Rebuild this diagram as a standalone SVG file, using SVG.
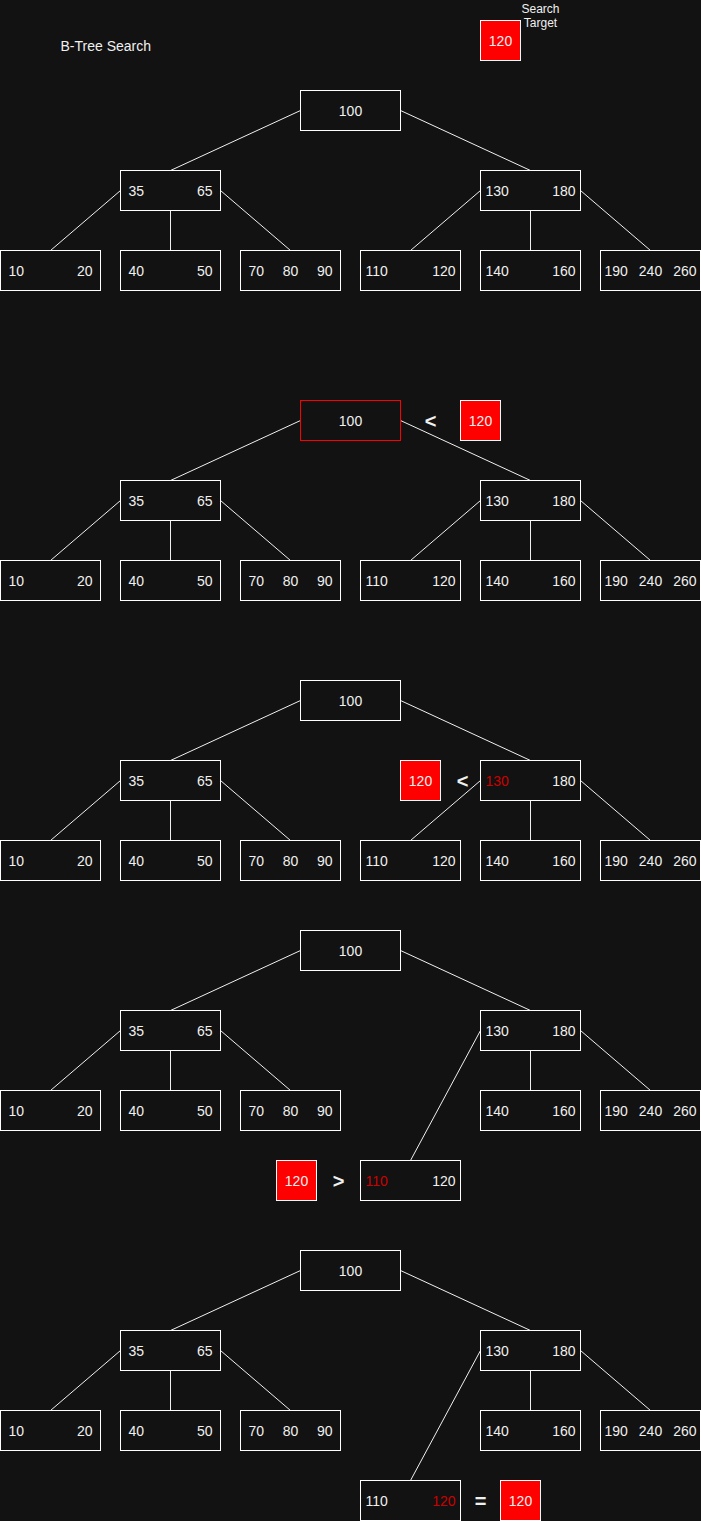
<svg xmlns="http://www.w3.org/2000/svg" width="701" height="1521" viewBox="0 0 701 1521">
<style>
.bg{fill:#121212}
.box{fill:#121212;stroke:#ffffff;stroke-width:1}
.hl{fill:#121212;stroke:#ff0000;stroke-width:1}
.tgt{fill:#ff0000;stroke:#ffffff;stroke-width:1}
.e{stroke:#f0f0f0;stroke-width:1;fill:none}
text{font-family:"Liberation Sans",Arial,Helvetica,sans-serif;font-size:14px;fill:#f0f0f0}
.m{text-anchor:middle}
.r{text-anchor:end}
.red{fill:#cc0000}
.op{font-size:20px;font-weight:bold;text-anchor:middle}
.sm{font-size:12px;text-anchor:middle}
</style>
<rect class="bg" x="0" y="0" width="701" height="1521"/>
<g transform="translate(0.5,0.5)">
<text x="60" y="50">B-Tree Search</text>
<g id="search-target">
<rect class="tgt" x="480" y="20" width="40" height="40"/>
<text class="m" x="500" y="45">120</text>
<text class="sm" x="540" y="12">Search</text>
<text class="sm" x="540" y="26">Target</text>
</g>

<g id="connectors">
<g transform="translate(0,0)">
<path class="e" d="M300 110L170 170M400 110L530 170M120 190L50 250M170 210L170 250M220 190L290 250M480 190L410 250M530 210L530 250M580 190L650 250"/>
</g>
<g transform="translate(0,310)">
<path class="e" d="M300 110L170 170M400 110L530 170M120 190L50 250M170 210L170 250M220 190L290 250M480 190L410 250M530 210L530 250M580 190L650 250"/>
</g>
<g transform="translate(0,590)">
<path class="e" d="M300 110L170 170M400 110L530 170M120 190L50 250M170 210L170 250M220 190L290 250M480 190L410 250M530 210L530 250M580 190L650 250"/>
</g>
<g transform="translate(0,840)">
<path class="e" d="M300 110L170 170M400 110L530 170M120 190L50 250M170 210L170 250M220 190L290 250M480 190L410 320M530 210L530 250M580 190L650 250"/>
</g>
<g transform="translate(0,1160)">
<path class="e" d="M300 110L170 170M400 110L530 170M120 190L50 250M170 210L170 250M220 190L290 250M480 190L410 320M530 210L530 250M580 190L650 250"/>
</g>
</g>

<!-- Panel 1 -->
<g id="panel1" transform="translate(0,0)">
<g id="p1-root"><rect class="box" x="300" y="90" width="100" height="40"/><text class="m" x="350" y="115">100</text></g>
<g id="p1-n35"><rect class="box" x="120" y="170" width="100" height="40"/><text x="128" y="195">35</text><text class="r" x="212" y="195">65</text></g>
<g id="p1-n130"><rect class="box" x="480" y="170" width="100" height="40"/><text x="485" y="195">130</text><text class="r" x="575" y="195">180</text></g>
<g id="p1-l1"><rect class="box" x="0" y="250" width="100" height="40"/><text x="8" y="275">10</text><text class="r" x="92" y="275">20</text></g>
<g id="p1-l2"><rect class="box" x="120" y="250" width="100" height="40"/><text x="128" y="275">40</text><text class="r" x="212" y="275">50</text></g>
<g id="p1-l3"><rect class="box" x="240" y="250" width="100" height="40"/><text x="248" y="275">70</text><text class="m" x="290" y="275">80</text><text class="r" x="332" y="275">90</text></g>
<g id="p1-l4"><rect class="box" x="360" y="250" width="100" height="40"/><text x="365" y="275">110</text><text class="r" x="455" y="275">120</text></g>
<g id="p1-l5"><rect class="box" x="480" y="250" width="100" height="40"/><text x="485" y="275">140</text><text class="r" x="575" y="275">160</text></g>
<g id="p1-l6"><rect class="box" x="600" y="250" width="100" height="40"/><text x="604" y="275">190</text><text class="m" x="650" y="275">240</text><text class="r" x="696" y="275">260</text></g>
</g>

<!-- Panel 2 -->
<g id="panel2" transform="translate(0,310)">
<g id="p2-root"><rect class="hl" x="300" y="90" width="100" height="40"/><text class="m" x="350" y="115">100</text></g>
<g id="p2-n35"><rect class="box" x="120" y="170" width="100" height="40"/><text x="128" y="195">35</text><text class="r" x="212" y="195">65</text></g>
<g id="p2-n130"><rect class="box" x="480" y="170" width="100" height="40"/><text x="485" y="195">130</text><text class="r" x="575" y="195">180</text></g>
<g id="p2-l1"><rect class="box" x="0" y="250" width="100" height="40"/><text x="8" y="275">10</text><text class="r" x="92" y="275">20</text></g>
<g id="p2-l2"><rect class="box" x="120" y="250" width="100" height="40"/><text x="128" y="275">40</text><text class="r" x="212" y="275">50</text></g>
<g id="p2-l3"><rect class="box" x="240" y="250" width="100" height="40"/><text x="248" y="275">70</text><text class="m" x="290" y="275">80</text><text class="r" x="332" y="275">90</text></g>
<g id="p2-l4"><rect class="box" x="360" y="250" width="100" height="40"/><text x="365" y="275">110</text><text class="r" x="455" y="275">120</text></g>
<g id="p2-l5"><rect class="box" x="480" y="250" width="100" height="40"/><text x="485" y="275">140</text><text class="r" x="575" y="275">160</text></g>
<g id="p2-l6"><rect class="box" x="600" y="250" width="100" height="40"/><text x="604" y="275">190</text><text class="m" x="650" y="275">240</text><text class="r" x="696" y="275">260</text></g>
<g id="p2-cmp"><text class="op" x="430" y="117">&lt;</text><rect class="tgt" x="460" y="90" width="40" height="40"/><text class="m" x="480" y="115">120</text></g>
</g>

<!-- Panel 3 -->
<g id="panel3" transform="translate(0,590)">
<g id="p3-root"><rect class="box" x="300" y="90" width="100" height="40"/><text class="m" x="350" y="115">100</text></g>
<g id="p3-n35"><rect class="box" x="120" y="170" width="100" height="40"/><text x="128" y="195">35</text><text class="r" x="212" y="195">65</text></g>
<g id="p3-n130"><rect class="box" x="480" y="170" width="100" height="40"/><text class="red" x="485" y="195">130</text><text class="r" x="575" y="195">180</text></g>
<g id="p3-l1"><rect class="box" x="0" y="250" width="100" height="40"/><text x="8" y="275">10</text><text class="r" x="92" y="275">20</text></g>
<g id="p3-l2"><rect class="box" x="120" y="250" width="100" height="40"/><text x="128" y="275">40</text><text class="r" x="212" y="275">50</text></g>
<g id="p3-l3"><rect class="box" x="240" y="250" width="100" height="40"/><text x="248" y="275">70</text><text class="m" x="290" y="275">80</text><text class="r" x="332" y="275">90</text></g>
<g id="p3-l4"><rect class="box" x="360" y="250" width="100" height="40"/><text x="365" y="275">110</text><text class="r" x="455" y="275">120</text></g>
<g id="p3-l5"><rect class="box" x="480" y="250" width="100" height="40"/><text x="485" y="275">140</text><text class="r" x="575" y="275">160</text></g>
<g id="p3-l6"><rect class="box" x="600" y="250" width="100" height="40"/><text x="604" y="275">190</text><text class="m" x="650" y="275">240</text><text class="r" x="696" y="275">260</text></g>
<g id="p3-cmp"><rect class="tgt" x="400" y="170" width="40" height="40"/><text class="m" x="420" y="195">120</text><text class="op" x="462" y="197">&lt;</text></g>
</g>

<!-- Panel 4 -->
<g id="panel4" transform="translate(0,840)">
<g id="p4-root"><rect class="box" x="300" y="90" width="100" height="40"/><text class="m" x="350" y="115">100</text></g>
<g id="p4-n35"><rect class="box" x="120" y="170" width="100" height="40"/><text x="128" y="195">35</text><text class="r" x="212" y="195">65</text></g>
<g id="p4-n130"><rect class="box" x="480" y="170" width="100" height="40"/><text x="485" y="195">130</text><text class="r" x="575" y="195">180</text></g>
<g id="p4-l1"><rect class="box" x="0" y="250" width="100" height="40"/><text x="8" y="275">10</text><text class="r" x="92" y="275">20</text></g>
<g id="p4-l2"><rect class="box" x="120" y="250" width="100" height="40"/><text x="128" y="275">40</text><text class="r" x="212" y="275">50</text></g>
<g id="p4-l3"><rect class="box" x="240" y="250" width="100" height="40"/><text x="248" y="275">70</text><text class="m" x="290" y="275">80</text><text class="r" x="332" y="275">90</text></g>
<g id="p4-l5"><rect class="box" x="480" y="250" width="100" height="40"/><text x="485" y="275">140</text><text class="r" x="575" y="275">160</text></g>
<g id="p4-l6"><rect class="box" x="600" y="250" width="100" height="40"/><text x="604" y="275">190</text><text class="m" x="650" y="275">240</text><text class="r" x="696" y="275">260</text></g>
<g id="p4-l4"><rect class="box" x="360" y="320" width="100" height="40"/><text class="red" x="365" y="345">110</text><text class="r" x="455" y="345">120</text></g>
<g id="p4-cmp"><rect class="tgt" x="276" y="320" width="40" height="40"/><text class="m" x="296" y="345">120</text><text class="op" x="338" y="347">&gt;</text></g>
</g>

<!-- Panel 5 -->
<g id="panel5" transform="translate(0,1160)">
<g id="p5-root"><rect class="box" x="300" y="90" width="100" height="40"/><text class="m" x="350" y="115">100</text></g>
<g id="p5-n35"><rect class="box" x="120" y="170" width="100" height="40"/><text x="128" y="195">35</text><text class="r" x="212" y="195">65</text></g>
<g id="p5-n130"><rect class="box" x="480" y="170" width="100" height="40"/><text x="485" y="195">130</text><text class="r" x="575" y="195">180</text></g>
<g id="p5-l1"><rect class="box" x="0" y="250" width="100" height="40"/><text x="8" y="275">10</text><text class="r" x="92" y="275">20</text></g>
<g id="p5-l2"><rect class="box" x="120" y="250" width="100" height="40"/><text x="128" y="275">40</text><text class="r" x="212" y="275">50</text></g>
<g id="p5-l3"><rect class="box" x="240" y="250" width="100" height="40"/><text x="248" y="275">70</text><text class="m" x="290" y="275">80</text><text class="r" x="332" y="275">90</text></g>
<g id="p5-l5"><rect class="box" x="480" y="250" width="100" height="40"/><text x="485" y="275">140</text><text class="r" x="575" y="275">160</text></g>
<g id="p5-l6"><rect class="box" x="600" y="250" width="100" height="40"/><text x="604" y="275">190</text><text class="m" x="650" y="275">240</text><text class="r" x="696" y="275">260</text></g>
<g id="p5-l4"><rect class="box" x="360" y="320" width="100" height="40"/><text x="365" y="345">110</text><text class="red r" x="455" y="345">120</text></g>
<g id="p5-cmp"><text class="op" x="480" y="347">=</text><rect class="tgt" x="500" y="320" width="40" height="40"/><text class="m" x="520" y="345">120</text></g>
</g>
</g>
</svg>
